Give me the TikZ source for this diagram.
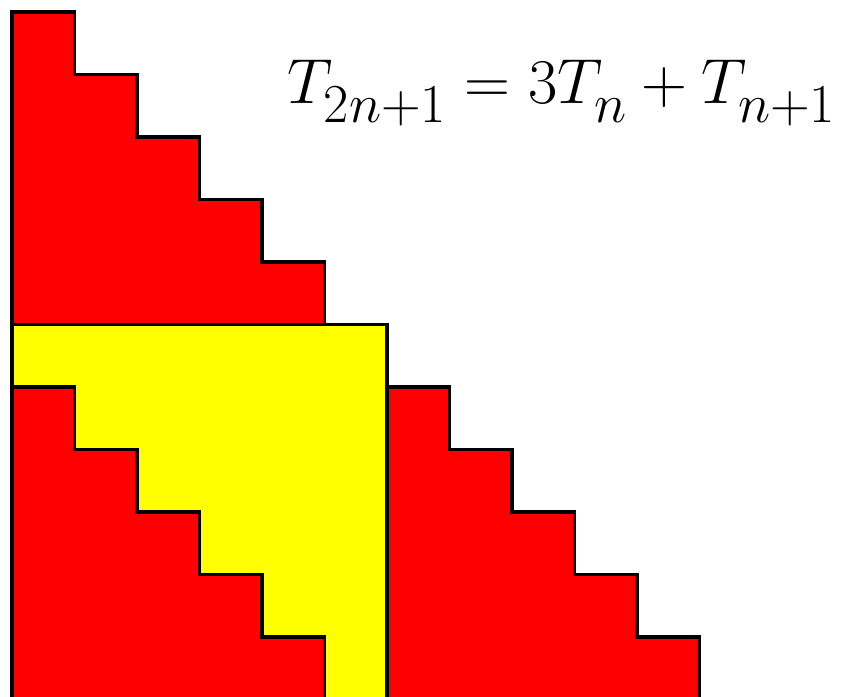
\RequirePackage{fix-cm}
\documentclass[tikz,border=0pt]{standalone}
\DeclareMathSizes{29}{29}{25}{20}
\definecolor{rd}{RGB}{255,0,0}
\definecolor{yl}{RGB}{255,255,0}
\begin{document}
\begin{tikzpicture}[x=1cm,y=1cm,
  blk/.style={draw=black,line width=1.4pt,line join=miter},
  eqn/.style={anchor=base west,inner sep=0pt,font=\fontsize{29}{35}\selectfont}]
\useasboundingbox (0,0) rectangle (13.616,-11.152);
\begin{scope}[shift={(0.192,-0.192)}]
\filldraw[blk,fill=rd] (0,0) -- (1,0) -- (1,-1) -- (2,-1) -- (2,-2) -- (3,-2) -- (3,-3) -- (4,-3) -- (4,-4) -- (5,-4) -- (5,-5) -- (0,-5) -- cycle;
\filldraw[blk,fill=yl] (0,-5) rectangle (6,-11);
\filldraw[blk,fill=rd] (0,-6) -- (1,-6) -- (1,-7) -- (2,-7) -- (2,-8) -- (3,-8) -- (3,-9) -- (4,-9) -- (4,-10) -- (5,-10) -- (5,-11) -- (0,-11) -- cycle;
\filldraw[blk,fill=rd] (6,-6) -- (7,-6) -- (7,-7) -- (8,-7) -- (8,-8) -- (9,-8) -- (9,-9) -- (10,-9) -- (10,-10) -- (11,-10) -- (11,-11) -- (6,-11) -- cycle;
\end{scope}
\node[eqn] (eq) at (4.592,-1.648) {$\fontdimen16\textfont2=9pt T_{2n+1}=3T_n+T_{n+1}$};
\end{tikzpicture}
\end{document}
